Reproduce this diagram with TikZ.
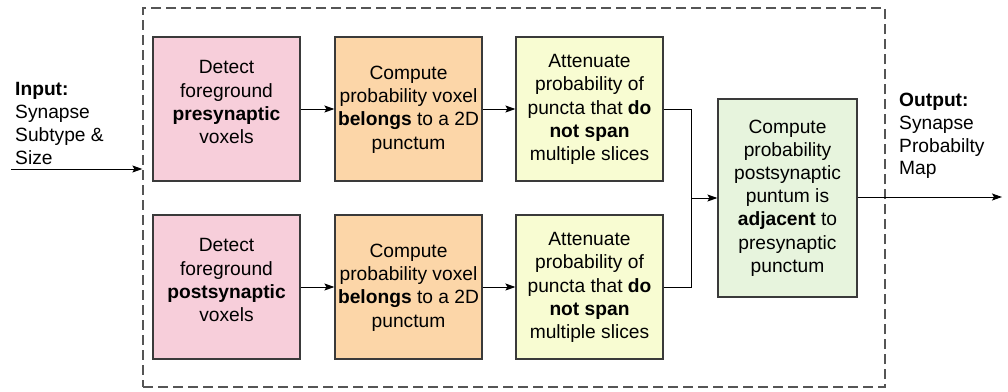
\documentclass[tikz,border=0pt]{standalone}
\usepackage{fontspec}
\setmainfont{Liberation Sans}
\usetikzlibrary{arrows.meta}
\definecolor{pinkfill}{HTML}{F7CEDA}
\definecolor{orangefill}{HTML}{FCD6A8}
\definecolor{yellowfill}{HTML}{F8FCD2}
\definecolor{greenfill}{HTML}{E7F4DD}
\definecolor{edge}{HTML}{3A3A3A}
\definecolor{framecol}{HTML}{555555}
\tikzset{
  box/.style={draw=edge, line width=1.2pt, minimum width=147pt, minimum height=144pt,
    inner sep=0pt, align=center, font=\fontsize{19.2}{23.2}\selectfont},
  pinkbox/.style={box, fill=pinkfill, text depth=14pt},
  orangebox/.style={box, fill=orangefill, text depth=3pt},
  yellowbox/.style={box, fill=yellowfill, text depth=3pt},
  greenbox/.style={box, fill=greenfill, minimum width=139pt, minimum height=198pt},
  framebox/.style={draw=framecol, line width=1.3pt, dash pattern=on 10pt off 5pt,
    minimum width=742pt, minimum height=379pt, inner sep=0pt},
  arr/.style={draw=black, line width=1pt, -{Stealth[length=10pt,width=7pt,inset=2pt]}},
  ln/.style={draw=black, line width=1pt},
  lbl/.style={align=left, inner sep=0pt, font=\fontsize{19.2}{22.7}\selectfont}
}
\begin{document}
\begin{tikzpicture}[x=1pt,y=-1pt]
\useasboundingbox (0,0) rectangle (1008,391);
\node[framebox] (frame) at (514,197.5) {};
\node[pinkbox] (p1) at (226.5,109) {Detect\\foreground\\\textbf{presynaptic}\\voxels};
\node[orangebox] (o1) at (408.5,109) {Compute\\probability voxel\\\textbf{belongs} to a 2D\\punctum};
\node[yellowbox] (y1) at (589.5,109) {Attenuate\\probability of\\puncta that \textbf{do}\\\textbf{not span}\\multiple slices};
\node[pinkbox] (p2) at (226.5,287) {Detect\\foreground\\\textbf{postsynaptic}\\voxels};
\node[orangebox] (o2) at (408.5,287) {Compute\\probability voxel\\\textbf{belongs} to a 2D\\punctum};
\node[yellowbox] (y2) at (589.5,287) {Attenuate\\probability of\\puncta that \textbf{do}\\\textbf{not span}\\multiple slices};
\node[greenbox] (g) at (787.5,198) {Compute\\probability\\postsynaptic\\puntum is\\\textbf{adjacent} to\\presynaptic\\punctum};
\node[lbl, anchor=west] (inlbl) at (15,123.5) {\textbf{Input:}\\Synapse\\Subtype \&\\Size};
\node[lbl, anchor=west] (outlbl) at (899,136) {\textbf{Output:}\\Synapse\\Probabilty\\Map};
\coordinate (inL) at (11,169);
\coordinate (m) at (691,198);
\coordinate (outR) at (1002,197);
\draw[arr] (inL) -- (inL -| frame.west);
\draw[arr] (p1) -- (o1);
\draw[arr] (o1) -- (y1);
\draw[arr] (p2) -- (o2);
\draw[arr] (o2) -- (y2);
\draw[ln] (y1.east) -| (m);
\draw[ln] (y2.east) -| (m);
\draw[arr] (m) -- (m -| g.west);
\draw[arr] (g.east |- outR) -- (outR);
\end{tikzpicture}
\end{document}
